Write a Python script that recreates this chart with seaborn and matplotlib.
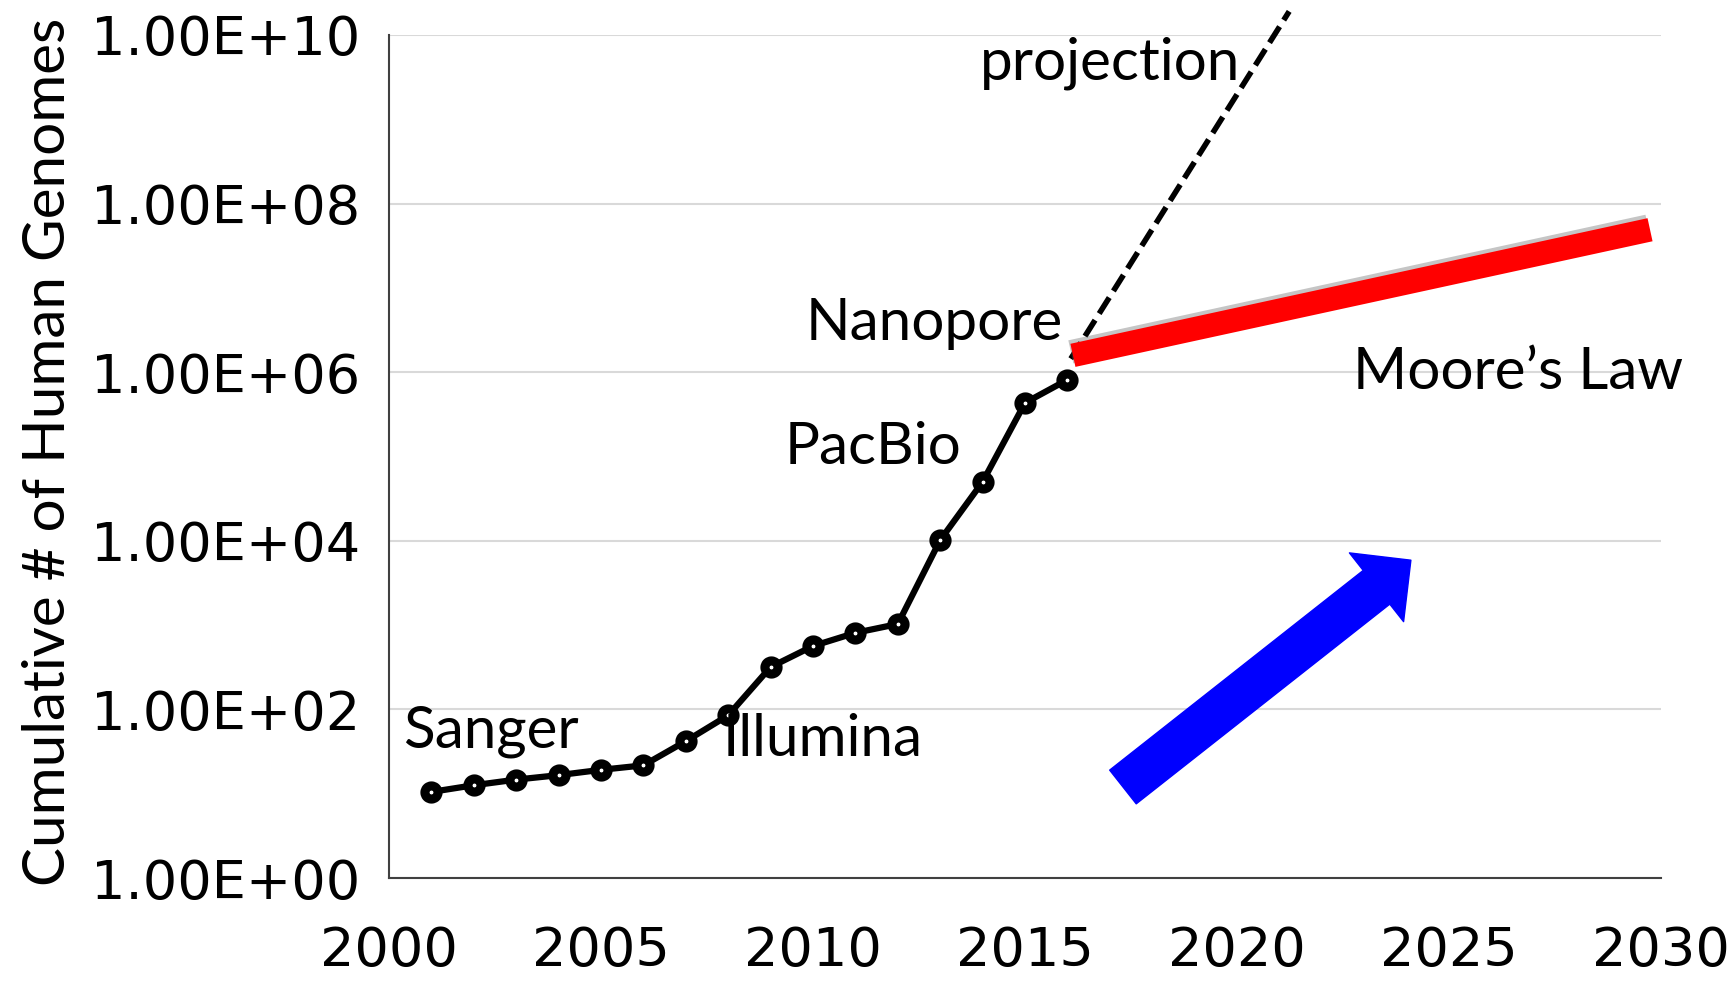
import numpy as np
import matplotlib
matplotlib.use("Agg")
import matplotlib.pyplot as plt
import matplotlib.patheffects as pe
from matplotlib.patches import FancyArrowPatch
from matplotlib.ticker import FuncFormatter
import seaborn as sns

# data
years = [2001, 2002, 2003, 2004, 2005, 2006, 2007, 2008,
         2009, 2010, 2011, 2012, 2013, 2014, 2015, 2016]
genomes = [10.5, 12.6, 14.7, 16.6, 19.2, 21.7, 42, 85,
           318, 565, 810, 1030, 10200, 50000, 433000, 813000]

projection_years = [2016.08, 2021.23]
projection_vals = [10 ** 6.16, 10 ** 10.28]

moore_years = [2016.13, 2029.74]
moore_vals = [10 ** 6.20, 10 ** 7.69]

arrow_tail = (2017.31, 10 ** 1.08)
arrow_tip = (2024.10, 10 ** 3.77)

labels = ["Sanger", "Illumina", "PacBio", "Nanopore", "projection", "Moore\u2019s Law"]
label_x = [2000.33, 2007.88, 2009.34, 2009.83, 2013.94, 2022.74]
label_y = [10 ** 1.55, 10 ** 1.45, 10 ** 4.91, 10 ** 6.38, 10 ** 9.47, 10 ** 5.80]

sns.set_style("white")
plt.rcParams["font.family"] = ["DejaVu Sans"]
plt.rcParams["text.color"] = "black"
plt.rcParams["axes.labelcolor"] = "black"
plt.rcParams["xtick.color"] = "black"
plt.rcParams["ytick.color"] = "black"

fig = plt.figure(figsize=(17.31, 9.83), dpi=100)
ax = fig.add_axes([0.2247, 0.1068, 0.7349, 0.8576])

sns.lineplot(x=years, y=genomes, ax=ax, color="black", linewidth=4.5,
             marker="o", markersize=9.5, markeredgewidth=6.5,
             markerfacecolor="white", markeredgecolor="black", zorder=4)

ax.plot(projection_years, projection_vals, color="black", linewidth=4,
        linestyle=(0, (3.4, 1.4)), clip_on=False, zorder=3)

ax.plot(moore_years, moore_vals, color="#ff0000", linewidth=17,
        solid_capstyle="butt", zorder=3,
        path_effects=[pe.SimpleLineShadow(offset=(-1.5, 2.5), shadow_color="0.35", alpha=0.35),
                      pe.Normal()])

arrow = FancyArrowPatch(arrow_tail, arrow_tip, shrinkA=0, shrinkB=0,
                        arrowstyle="simple,head_width=2.1,head_length=1.05,tail_width=1.03",
                        mutation_scale=30, color="#0000ff", zorder=3)
ax.add_patch(arrow)

for t, x, y in zip(labels, label_x, label_y):
    ax.text(x, y, t, fontsize=42, family=["Lato", "DejaVu Sans"],
            ha="left", va="baseline", zorder=5, color="black")

ax.set_yscale("log")
ax.set_xlim(2000, 2030)
ax.set_ylim(1, 1e10)
ax.set_yticks([10 ** k for k in range(0, 11, 2)])
ax.yaxis.set_minor_locator(matplotlib.ticker.NullLocator())
ax.yaxis.set_major_formatter(FuncFormatter(lambda v, p: f"{v:.2E}"))
ax.set_xticks([2000, 2005, 2010, 2015, 2020, 2025, 2030])

ax.grid(axis="y", color="#d9d9d9", linewidth=1.5)
ax.grid(axis="x", visible=False)
ax.set_axisbelow(True)

for s in ["top", "right"]:
    ax.spines[s].set_visible(False)
for s in ["left", "bottom"]:
    ax.spines[s].set_color("#404040")
    ax.spines[s].set_linewidth(1.5)

ax.tick_params(axis="y", length=0, pad=21, labelsize=39)
ax.tick_params(axis="x", length=0, pad=34, labelsize=39)

ax.set_ylabel("Cumulative # of Human Genomes", fontsize=42,
              family=["Lato", "DejaVu Sans"], color="black")
ax.yaxis.set_label_coords(-0.247, 0.505)

fig.savefig("out.png", dpi=100)
